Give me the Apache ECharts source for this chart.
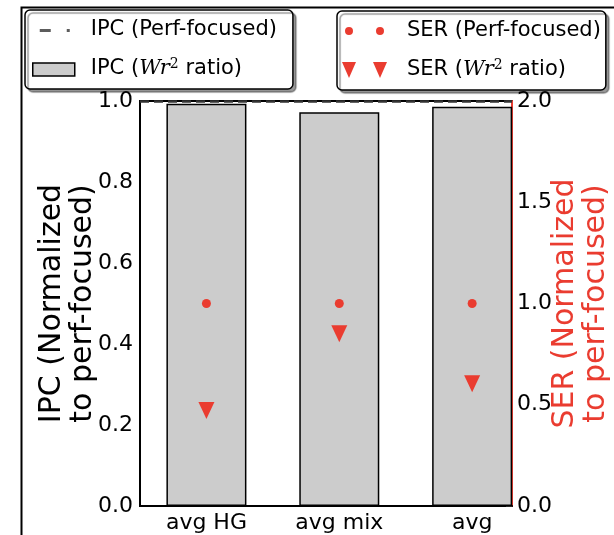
<!DOCTYPE html>
<html>
<head>
<meta charset="utf-8">
<script src="https://cdn.jsdelivr.net/npm/echarts@6/dist/echarts.min.js"></script>
<style>
  html, body { margin: 0; padding: 0; background: #fff; }
  #chart { width: 614px; height: 535px; }
</style>
</head>
<body>
<div id="chart"></div>
<script>
var categories = ['avg HG', 'avg mix', 'avg'];
var ipcPerf = [1.0, 1.0, 1.0];
var ipcWr2 = [0.993, 0.972, 0.986];
var serPerf = [1.0, 1.0, 1.0];
var serWr2 = [0.472, 0.851, 0.604];
var ipcTicks = [0, 0.2, 0.4, 0.6, 0.8, 1.0];
var serTicks = [0, 0.5, 1.0, 1.5, 2.0];

var RED = '#ea3c30';
var FONT = 'DejaVu Sans';

var myChart = echarts.init(document.getElementById('chart'));

function pts(vals) {
    return vals.map(function (v, i) { return [i, v]; });
}

// legend icons (bbox padded with bare moveTo points so they are not stretched)
var iconDash = 'path://M0,0M55,20M9,9h11v3h-11zM36,9h3v3h-3z';
var iconRect = 'path://M0,0M55,20M2,4h42v13h-42z';
var iconDots = 'path://M0,0M62,20M5,10a4,4 0 1,0 8,0a4,4 0 1,0 -8,0zM36,10a4,4 0 1,0 8,0a4,4 0 1,0 -8,0z';
var iconTris = 'path://M0,0M62,20M2,2h14l-7,16zM33,2h14l-7,16z';

var legendText = {
    fontFamily: FONT, fontSize: 21, color: '#000', lineHeight: 22,
    rich: {
        it: { fontFamily: 'DejaVu Serif', fontStyle: 'italic', fontSize: 21, color: '#000' },
        sup: { fontFamily: 'DejaVu Serif', fontSize: 14, color: '#000', padding: [0, 0, 10, 0] }
    }
};
function legendFmt(name) {
    return name.replace('Wr2', '{it|Wr}{sup|2}');
}
var legendBox = {
    orient: 'vertical',
    backgroundColor: '#fff',
    borderColor: '#000',
    borderWidth: 1.5,
    borderRadius: 5,
    shadowColor: 'rgba(0,0,0,0.4)',
    shadowBlur: 1,
    shadowOffsetX: 3,
    shadowOffsetY: 3,
    itemGap: 16,
    itemHeight: 20,
    selectedMode: false,
    textStyle: legendText,
    formatter: legendFmt
};

option = {
    animation: false,
    backgroundColor: '#fff',
    grid: {
        left: 140, right: 102, top: 101, bottom: 29,
        outerBoundsMode: 'none', containLabel: false,
        show: true, borderColor: '#000', borderWidth: 2, backgroundColor: 'transparent'
    },
    legend: [
        Object.assign({}, legendBox, {
            left: 25, top: 10, itemWidth: 55,
            padding: [9, 16, 9, 5],
            data: [
                { name: 'IPC (Perf-focused)', icon: iconDash, itemStyle: { color: '#333', borderWidth: 0 } },
                { name: 'IPC (Wr2 ratio)', icon: iconRect, itemStyle: { color: '#cccccc', borderColor: '#000', borderWidth: 1.5 } }
            ]
        }),
        Object.assign({}, legendBox, {
            left: 337, top: 11, itemWidth: 62,
            padding: [9, 5, 9, 3],
            data: [
                { name: 'SER (Perf-focused)', icon: iconDots, itemStyle: { color: RED, borderWidth: 0, opacity: 1 } },
                { name: 'SER (Wr2 ratio)', icon: iconTris, itemStyle: { color: RED, borderWidth: 0, opacity: 1 } }
            ]
        })
    ],
    xAxis: {
        type: 'value', min: -0.5, max: 2.3,
        splitLine: { show: false },
        axisLine: { onZero: false, lineStyle: { color: '#000', width: 2 } },
        axisTick: { show: false },
        axisLabel: {
            customValues: [0, 1, 2],
            formatter: function (v) { return categories[Math.round(v)]; },
            fontFamily: FONT, fontSize: 22, color: '#000', margin: 6
        }
    },
    yAxis: [
        {
            type: 'value', min: 0, max: 1, interval: 0.2,
            name: 'IPC (Normalized\nto perf-focused)',
            nameLocation: 'middle', nameRotate: 90, nameGap: 41, nameMoveOverlap: false,
            nameTextStyle: { fontFamily: FONT, fontSize: 30, color: '#000', lineHeight: 31 },
            splitLine: { show: false },
            axisLine: { show: true, onZero: false, lineStyle: { color: '#000', width: 2 } },
            axisTick: { show: false },
            axisLabel: {
                customValues: ipcTicks,
                formatter: function (v) { return v.toFixed(1); },
                fontFamily: FONT, fontSize: 22, color: '#000', margin: 7
            }
        },
        {
            type: 'value', min: 0, max: 2, interval: 0.5, position: 'right',
            name: 'SER (Normalized\nto perf-focused)',
            nameLocation: 'middle', nameRotate: 90, nameGap: 38, nameMoveOverlap: false,
            nameTextStyle: { fontFamily: FONT, fontSize: 30, color: RED, lineHeight: 31 },
            splitLine: { show: false },
            axisLine: { show: true, onZero: false, lineStyle: { color: RED, width: 2 } },
            axisTick: { show: true, inside: true, length: 6, lineStyle: { color: '#333', width: 1.5 } },
            axisLabel: {
                customValues: serTicks,
                formatter: function (v) { return v.toFixed(1); },
                fontFamily: FONT, fontSize: 22, color: '#000', margin: 5
            }
        }
    ],
    series: [
        {
            name: 'IPC (Wr2 ratio)',
            type: 'bar',
            yAxisIndex: 0,
            barWidth: 80,
            data: pts(ipcWr2),
            itemStyle: { color: '#cccccc', borderColor: '#000', borderWidth: 1.5 },
            z: 2
        },
        {
            name: 'IPC (Perf-focused)',
            type: 'scatter',
            yAxisIndex: 0,
            data: [],
            itemStyle: { color: '#333' },
            markLine: {
                silent: true,
                symbol: 'none',
                label: { show: false },
                lineStyle: { color: '#333', width: 2.5, type: [9, 5] },
                data: [{ yAxis: ipcPerf[0] }]
            },
            z: 4
        },
        {
            name: 'SER (Perf-focused)',
            type: 'scatter',
            yAxisIndex: 1,
            symbol: 'circle',
            symbolSize: 9,
            data: pts(serPerf),
            itemStyle: { color: RED, opacity: 1 },
            z: 5
        },
        {
            name: 'SER (Wr2 ratio)',
            type: 'scatter',
            yAxisIndex: 1,
            symbol: 'triangle',
            symbolRotate: 180,
            symbolSize: [16, 17],
            data: pts(serWr2),
            itemStyle: { color: RED, opacity: 1 },
            z: 5
        }
    ],
    graphic: [
        {
            type: 'polyline',
            shape: { points: [[21.5, 535], [21.5, 7.5], [614, 7.5]] },
            style: { stroke: '#000', lineWidth: 2, fill: null },
            silent: true
        }
    ]
};

myChart.setOption(option);
</script>
</body>
</html>
